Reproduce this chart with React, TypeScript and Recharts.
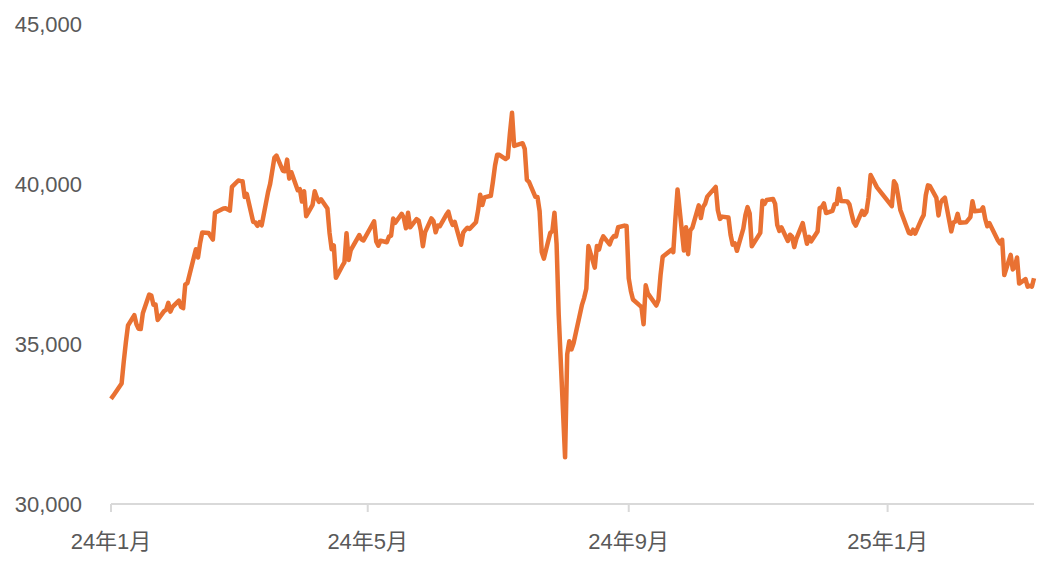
import { Line, LineChart, XAxis, YAxis } from "recharts";

// trading days per month (year-month, day of month)
const tradingDays: [string, number[]][] = [
  ["2024-01", [4, 5, 9, 10, 11, 12, 15, 16, 17, 18, 19, 22, 23, 24, 25, 26, 29, 30, 31]],
  ["2024-02", [1, 2, 5, 6, 7, 8, 9, 13, 14, 15, 16, 19, 20, 21, 22, 26, 27, 28, 29]],
  ["2024-03", [1, 4, 5, 6, 7, 8, 11, 12, 13, 14, 15, 18, 19, 21, 22, 25, 26, 27, 28, 29]],
  ["2024-04", [1, 2, 3, 4, 5, 8, 9, 10, 11, 12, 15, 16, 17, 18, 19, 22, 23, 24, 25, 26, 30]],
  ["2024-05", [1, 2, 7, 8, 9, 10, 13, 14, 15, 16, 17, 20, 21, 22, 23, 24, 27, 28, 29, 30, 31]],
  ["2024-06", [3, 4, 5, 6, 7, 10, 11, 12, 13, 14, 17, 18, 19, 20, 21, 24, 25, 26, 27, 28]],
  ["2024-07", [1, 2, 3, 4, 5, 8, 9, 10, 11, 12, 16, 17, 18, 19, 22, 23, 24, 25, 26, 29, 30, 31]],
  ["2024-08", [1, 2, 5, 6, 7, 8, 9, 13, 14, 15, 16, 19, 20, 21, 22, 23, 26, 27, 28, 29, 30]],
  ["2024-09", [2, 3, 4, 5, 6, 9, 10, 11, 12, 13, 17, 18, 19, 20, 24, 25, 26, 27, 30]],
  ["2024-10", [1, 2, 3, 4, 7, 8, 9, 10, 11, 15, 16, 17, 18, 21, 22, 23, 24, 25, 28, 29, 30, 31]],
  ["2024-11", [1, 5, 6, 7, 8, 11, 12, 13, 14, 15, 18, 19, 20, 21, 22, 25, 26, 27, 28, 29]],
  ["2024-12", [2, 3, 4, 5, 6, 9, 10, 11, 12, 13, 16, 17, 18, 19, 20, 23, 24, 25, 26, 27, 30]],
  ["2025-01", [6, 7, 8, 9, 10, 14, 15, 16, 17, 20, 21, 22, 23, 24, 27, 28, 29, 30, 31]],
  ["2025-02", [3, 4, 5, 6, 7, 10, 12, 13, 14, 17, 18, 19, 20, 21, 25, 26, 27, 28]],
  ["2025-03", [3, 4, 5, 6, 7, 10, 11, 12, 13, 14]],
];

const closes = [
  // 2024-01
  33288, 33377, 33763, 34441, 35049, 35577, 35901, 35619, 35477, 35466, 35963, 36546, 36517, 36226, 36236, 35751, 36026, 36065, 36287,
  // 2024-02
  36011, 36158, 36354, 36160, 36119, 36863, 36897, 37963, 37703, 38157, 38487, 38470, 38363, 38262, 39098, 39233, 39239, 39208, 39166,
  // 2024-03
  39910, 40109, 40097, 40090, 39598, 39688, 38820, 38797, 38695, 38807, 38708, 39740, 40003, 40816, 40888, 40414, 40398, 40762, 40168, 40369,
  // 2024-04
  39803, 39838, 39451, 39773, 38992, 39347, 39773, 39581, 39442, 39523, 39233, 38471, 37962, 38079, 37068, 37438, 37552, 38460, 37628, 37934, 38405,
  // 2024-05
  38274, 38236, 38835, 38202, 38074, 38229, 38179, 38356, 38386, 38920, 38787, 39069, 38946, 38617, 39103, 38646, 38900, 38855, 38556, 38054, 38487,
  // 2024-06
  38923, 38837, 38490, 38703, 38683, 39038, 39134, 38876, 38720, 38814, 38102, 38482, 38570, 38633, 38596, 38804, 39173, 39667, 39341, 39583,
  // 2024-07
  39631, 40074, 40580, 40913, 40912, 40780, 40831, 41580, 42224, 41191, 41275, 41098, 40126, 40063, 39599, 39594, 39154, 37870, 37667, 38469, 38526, 39102,
  // 2024-08
  38126, 35909, 31458, 34675, 35089, 34831, 35025, 36232, 36442, 36726, 38062, 37388, 38063, 37951, 38211, 38364, 38110, 38288, 38371, 38362, 38648,
  // 2024-09
  38700, 38686, 37047, 36657, 36391, 36215, 36159, 35620, 36833, 36581, 36203, 36380, 37155, 37723, 37940, 37870, 38925, 39830, 37919,
  // 2024-10
  38651, 37808, 38552, 38635, 39333, 38937, 39277, 39380, 39605, 39910, 39180, 38911, 38981, 38954, 38411, 38104, 38143, 37913, 38605, 39027, 39277, 39081,
  // 2024-11
  38053, 38474, 39480, 39381, 39500, 39533, 39376, 38721, 38535, 38642, 38220, 38414, 38352, 38026, 38283, 38780, 38442, 38134, 38349, 38208,
  // 2024-12
  38513, 39248, 39276, 39395, 39091, 39160, 39367, 39372, 39849, 39470, 39457, 39364, 39081, 38813, 38701, 39161, 39036, 39130, 39568, 40281, 39894,
  // 2025-01
  39307, 40083, 39981, 39605, 39190, 38474, 38444, 38572, 38451, 38902, 39027, 39646, 39958, 39931, 39565, 39016, 39414, 39513, 39572,
  // 2025-02
  38520, 38798, 38831, 39066, 38787, 38801, 38963, 39461, 39149, 39174, 39270, 38909, 38678, 38776, 38237, 38142, 38256, 37155,
  // 2025-03
  37785, 37331, 37418, 37704, 36887, 37028, 36793, 36819, 36790, 37053,
];

const tickDates = ["2024-01-04", "2024-05-04", "2024-09-04", "2025-01-04"];
const tickLabels = ["24年1月", "24年5月", "24年9月", "25年1月"];
const yTicks = [30000, 35000, 40000, 45000];

const toTime = (s: string) => Date.parse(s + "T00:00:00Z");

const dates = tradingDays.flatMap(([ym, days]) =>
  days.map((d) => `${ym}-${String(d).padStart(2, "0")}`)
);
const data = dates.map((date, i) => ({ t: toTime(date), close: closes[i] }));
const tickTimes = tickDates.map(toTime);

const font = '"Liberation Sans", "Noto Sans CJK JP", sans-serif';
const grey = "#d9d9d9";

export default function App() {
  return (
    <div style={{ position: "absolute", left: 0, top: 0, background: "#fff" }}>
      <LineChart
        width={1056}
        height={575}
        data={data}
        margin={{ top: 24, right: 22, bottom: 11, left: 0 }}
        style={{ fontFamily: font }}
      >
        <XAxis
          dataKey="t"
          type="number"
          scale="time"
          domain={["dataMin", "dataMax"]}
          ticks={tickTimes}
          interval={0}
          height={60}
          tickSize={8}
          tickMargin={21}
          axisLine={{ stroke: grey, strokeWidth: 2 }}
          tickLine={{ stroke: grey, strokeWidth: 2 }}
          tick={{ fill: "#595959", fontSize: 22, fontFamily: font }}
          tickFormatter={(v: number) => tickLabels[tickTimes.indexOf(v)] ?? ""}
        />
        <YAxis
          domain={[30000, 45000]}
          ticks={yTicks}
          width={111}
          axisLine={false}
          tickLine={false}
          tickSize={0}
          tickMargin={29}
          tick={{ fill: "#595959", fontSize: 22, fontFamily: font }}
          tickFormatter={(v: number) => v.toLocaleString("en-US")}
        />
        <Line
          type="linear"
          dataKey="close"
          stroke="#E97132"
          strokeWidth={4.5}
          strokeLinejoin="round"
          dot={false}
          activeDot={false}
          isAnimationActive={false}
        />
      </LineChart>
    </div>
  );
}
